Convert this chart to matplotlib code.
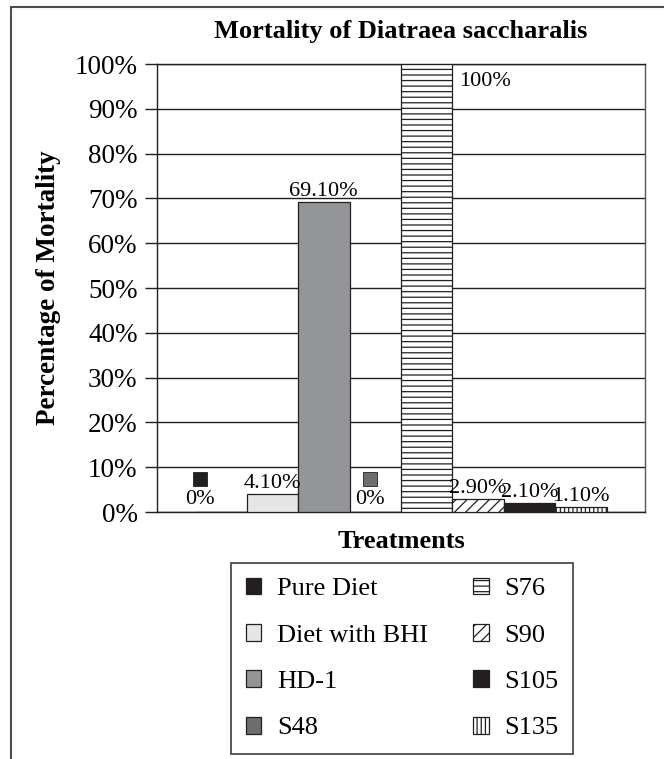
import matplotlib
matplotlib.use("Agg")
import matplotlib.pyplot as plt
from matplotlib.patches import Rectangle
from matplotlib.transforms import ScaledTranslation

# data
treatments = ["Pure Diet", "Diet with BHI", "HD-1", "S48", "S76", "S90", "S105", "S135"]
mortality = [0.0, 4.1, 69.1, 0.0, 100.0, 2.9, 2.1, 1.1]
value_labels = ["0%", "4.10%", "69.10%", "0%", "100%", "2.90%", "2.10%", "1.10%"]
y_ticks = [0, 10, 20, 30, 40, 50, 60, 70, 80, 90, 100]

# styles
colors = ["#231f20", "#e6e6e6", "#939598", "#6d6e71", "white", "white", "#231f20", "white"]
hatches = [None, None, None, None, "---", "///", None, "||||"]

plt.rcParams['font.family'] = ['Liberation Serif', 'DejaVu Serif']
plt.rcParams['hatch.linewidth'] = 0.9

fig = plt.figure(figsize=(6.64, 7.59), dpi=100)
ax = fig.add_axes([157/664, 1 - 512/759, (645-157)/664, (512-64)/759])

# outer frame of the figure (cropped on the right and bottom)
fig.patches.append(Rectangle((11/664, -0.1), 1.2, 1.1 - 7/759, transform=fig.transFigure,
                             fill=False, edgecolor="#4d4d4d", linewidth=1.5))

x = list(range(len(treatments)))
bars = []
for i in x:
    b = ax.bar(i, mortality[i], width=1.0, color=colors[i], edgecolor="#231f20",
               linewidth=0.9, hatch=hatches[i], label=treatments[i], zorder=3)
    bars.append(b)

# value labels
for i in x:
    v = mortality[i]
    if v == 0:
        dx = -21 if i == 0 else -5
        ax.annotate(value_labels[i], (i, 0), xytext=(dx, 12), textcoords="offset pixels",
                    ha="center", va="center", fontsize=16, zorder=5)
        ax.plot([i], [0], marker="s", markersize=10.5, color=colors[i],
                markeredgecolor="#231f20", markeredgewidth=0.6, linestyle="none",
                transform=ax.transData + ScaledTranslation(dx/100, 33/100, fig.dpi_scale_trans),
                zorder=5, clip_on=False)
    elif v >= 100:
        ax.annotate(value_labels[i], (i, v), xytext=(58, -17), textcoords="offset pixels",
                    ha="center", va="center", fontsize=16, zorder=5)
    else:
        ax.annotate(value_labels[i], (i, v), xytext=(0, 1), textcoords="offset pixels",
                    ha="center", va="bottom", fontsize=16, zorder=5)

ax.set_xlim(-1.24, 8.24)
ax.set_ylim(0, 100)
ax.set_yticks(y_ticks)
ax.set_yticklabels([f"{t}%" for t in y_ticks], fontsize=19.5)
ax.set_xticks([])
ax.tick_params(axis="y", direction="out", length=9, width=1, pad=5, color="#231f20")
ax.yaxis.grid(True, color="#231f20", linewidth=1, zorder=0)
for s in ax.spines.values():
    s.set_color("#231f20")
    s.set_linewidth(1)
ax.spines["right"].set_color("#555555")

ax.set_title("Mortality of Diatraea saccharalis", fontsize=19, fontweight="bold", pad=19)
ax.set_ylabel("Percentage of Mortality", fontsize=19.5, fontweight="bold", labelpad=10)
ax.set_xlabel("Treatments", fontsize=19, fontweight="bold", labelpad=13)

leg = fig.legend(handles=bars, labels=treatments, ncol=2,
                 loc="upper left", bbox_to_anchor=(231/664, 1 - 563/759),
                 fontsize=19, frameon=True, fancybox=False, edgecolor="#231f20",
                 handlelength=0.6, handleheight=0.6, handletextpad=0.6,
                 labelspacing=0.9, columnspacing=1.7, borderpad=0.55, borderaxespad=0)
leg.get_frame().set_linewidth(1.3)

fig.savefig("out.png", dpi=100)
